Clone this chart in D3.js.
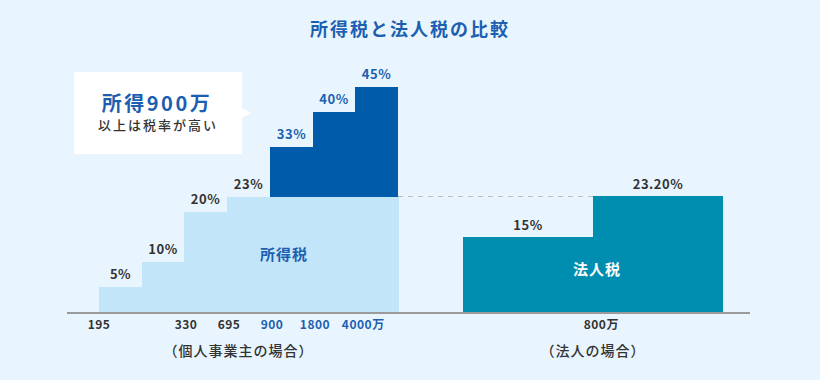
<!DOCTYPE html>
<html>
<head>
<meta charset="utf-8">
<script src="https://cdn.jsdelivr.net/npm/d3@7"></script>
<style>
  html, body { margin: 0; padding: 0; background: #e9f5fe; }
  svg { display: block; font-family: "Noto Sans CJK JP", "Noto Sans", sans-serif; }
</style>
</head>
<body>
<script>
// income tax brackets (個人事業主)
const incomeRates = [5, 10, 20, 23, 33, 40, 45];
const incomeTicks = ["195", "330", "695", "900", "1800", "4000"];
const incomeTickAt = [0, 2, 3, 4, 5, 6];   // bracket boundary index of each tick
const highlightFrom = 4;                   // 900万以上
// corporate tax brackets (法人)
const corpRates = [15, 23.2];
const corpLabels = ["15%", "23.20%"];
const corpTicks = ["800"];
const corpTickAt = [1];

const w = 820;
const h = 380;
const base = 312;

const light = "#c3e5fa";
const dark = "#005bab";
const teal = "#008eb0";
const blueText = "#1c5fb0";
const grayText = "#333";

const svg = d3.select("body")
  .append("svg")
  .attr("width", w)
  .attr("height", h);

svg.append("rect")
  .attr("width", w)
  .attr("height", h)
  .attr("fill", "#e9f5fe");

const yScale = d3.scaleLinear()
  .domain([0, 45])
  .range([base, base - 225]);

const xIncome = d3.scaleLinear()
  .domain([0, incomeRates.length])
  .range([99, 398])
  .interpolate(d3.interpolateRound);

const xCorp = d3.scaleLinear()
  .domain([0, corpRates.length])
  .range([463, 723])
  .interpolate(d3.interpolateRound);

const lightCap = incomeRates[highlightFrom - 1];

const bars = svg.append("g").attr("shape-rendering", "crispEdges");

// light part of income tax
bars.selectAll("rect.light")
  .data(incomeRates)
  .enter()
  .append("rect")
  .attr("class", "light")
  .attr("x", (d, i) => xIncome(i))
  .attr("width", (d, i) => xIncome(i + 1) - xIncome(i) + 1)
  .attr("y", d => Math.round(yScale(Math.min(d, lightCap))))
  .attr("height", d => base - Math.round(yScale(Math.min(d, lightCap))))
  .attr("fill", light);

// dark part (900万以上)
bars.selectAll("rect.dark")
  .data(incomeRates.map((d, i) => ({ rate: d, i })).filter(d => d.i >= highlightFrom))
  .enter()
  .append("rect")
  .attr("class", "dark")
  .attr("x", d => xIncome(d.i))
  .attr("width", d => xIncome(d.i + 1) - xIncome(d.i) + (d.i < incomeRates.length - 1 ? 1 : 0))
  .attr("y", d => Math.round(yScale(d.rate)))
  .attr("height", d => Math.round(yScale(lightCap)) - Math.round(yScale(d.rate)))
  .attr("fill", dark);

// corporate tax
bars.selectAll("rect.corp")
  .data(corpRates)
  .enter()
  .append("rect")
  .attr("class", "corp")
  .attr("x", (d, i) => xCorp(i))
  .attr("width", (d, i) => xCorp(i + 1) - xCorp(i) + (i < corpRates.length - 1 ? 1 : 0))
  .attr("y", d => Math.round(yScale(d)))
  .attr("height", d => base - Math.round(yScale(d)))
  .attr("fill", teal);

// dashed guide at corporate top rate
svg.append("line")
  .attr("x1", xIncome(incomeRates.length))
  .attr("x2", xCorp(corpRates.length - 1))
  .attr("y1", Math.round(yScale(d3.max(corpRates))) + 0.5)
  .attr("y2", Math.round(yScale(d3.max(corpRates))) + 0.5)
  .attr("stroke", "#b9bec2")
  .attr("stroke-width", 1)
  .attr("stroke-dasharray", "5,5");

// baseline
svg.append("line")
  .attr("x1", 67)
  .attr("x2", 750)
  .attr("y1", base + 1)
  .attr("y2", base + 1)
  .attr("stroke", "#9a9a9a")
  .attr("stroke-width", 2);

// percentage labels
svg.selectAll("text.rate")
  .data(incomeRates)
  .enter()
  .append("text")
  .attr("class", "rate")
  .attr("x", (d, i) => (xIncome(i) + xIncome(i + 1)) / 2)
  .attr("y", d => yScale(d) - 8)
  .attr("text-anchor", "middle")
  .attr("font-size", 13)
  .attr("font-weight", "bold")
  .attr("letter-spacing", 0.5)
  .attr("fill", (d, i) => i >= highlightFrom ? blueText : grayText)
  .text(d => d + "%");

svg.selectAll("text.crate")
  .data(corpRates)
  .enter()
  .append("text")
  .attr("class", "crate")
  .attr("x", (d, i) => (xCorp(i) + xCorp(i + 1)) / 2)
  .attr("y", d => yScale(d) - 7)
  .attr("text-anchor", "middle")
  .attr("font-size", 13)
  .attr("font-weight", "bold")
  .attr("letter-spacing", 0.5)
  .attr("fill", grayText)
  .text((d, i) => corpLabels[i]);

// tick labels, 万 appended to the last one of each group
function drawTicks(ticks, at, scale, colorFn) {
  ticks.forEach((t, k) => {
    const x = scale(at[k]) + (at[k] === 0 ? 0 : 2);
    const txt = svg.append("text")
      .attr("x", x)
      .attr("y", base + 17)
      .attr("text-anchor", "middle")
      .attr("font-size", 12)
      .attr("font-weight", "bold")
      .attr("letter-spacing", 0.5)
      .attr("fill", colorFn(at[k]))
      .text(t);
    if (k === ticks.length - 1) {
      const len = txt.node().getComputedTextLength();
      svg.append("text")
        .attr("x", x + len / 2)
        .attr("y", base + 17)
        .attr("font-size", 12)
        .attr("font-weight", "bold")
        .attr("fill", colorFn(at[k]))
        .text("万");
    }
  });
}
drawTicks(incomeTicks, incomeTickAt, xIncome, i => i >= highlightFrom ? blueText : grayText);
drawTicks(corpTicks, corpTickAt, xCorp, () => grayText);

// group captions
svg.append("text")
  .attr("x", (xIncome(0) + xIncome(incomeRates.length)) / 2 - 10)
  .attr("y", 356)
  .attr("text-anchor", "middle")
  .attr("font-size", 14)
  .attr("font-weight", 500)
  .attr("letter-spacing", 1)
  .attr("fill", grayText)
  .text("（個人事業主の場合）");

svg.append("text")
  .attr("x", xCorp(1))
  .attr("y", 356)
  .attr("text-anchor", "middle")
  .attr("font-size", 14)
  .attr("font-weight", 500)
  .attr("letter-spacing", 1)
  .attr("fill", grayText)
  .text("（法人の場合）");

// names inside the bars
svg.append("text")
  .attr("x", 284)
  .attr("y", 260)
  .attr("text-anchor", "middle")
  .attr("font-size", 15)
  .attr("font-weight", "bold")
  .attr("letter-spacing", 1)
  .attr("fill", blueText)
  .text("所得税");

svg.append("text")
  .attr("x", xCorp(1) + 4)
  .attr("y", 275)
  .attr("text-anchor", "middle")
  .attr("font-size", 15)
  .attr("font-weight", "bold")
  .attr("letter-spacing", 1)
  .attr("fill", "#fff")
  .text("法人税");

// title
svg.append("text")
  .attr("x", 410)
  .attr("y", 36)
  .attr("text-anchor", "middle")
  .attr("font-size", 18)
  .attr("font-weight", "bold")
  .attr("letter-spacing", 2)
  .attr("fill", blueText)
  .text("所得税と法人税の比較");

// callout
const callout = svg.append("g");
callout.append("rect")
  .attr("x", 74)
  .attr("y", 72)
  .attr("width", 168)
  .attr("height", 82)
  .attr("fill", "#fff");
callout.append("path")
  .attr("d", "M242,108 L251,113 L242,118 Z")
  .attr("fill", "#fff");
callout.append("text")
  .attr("x", 157)
  .attr("y", 111)
  .attr("text-anchor", "middle")
  .attr("font-size", 20)
  .attr("font-weight", "bold")
  .attr("letter-spacing", 2.5)
  .attr("fill", blueText)
  .text("所得900万");
callout.append("text")
  .attr("x", 158)
  .attr("y", 130)
  .attr("text-anchor", "middle")
  .attr("font-size", 13)
  .attr("font-weight", 500)
  .attr("letter-spacing", 2)
  .attr("fill", grayText)
  .text("以上は税率が高い");
</script>
</body>
</html>
